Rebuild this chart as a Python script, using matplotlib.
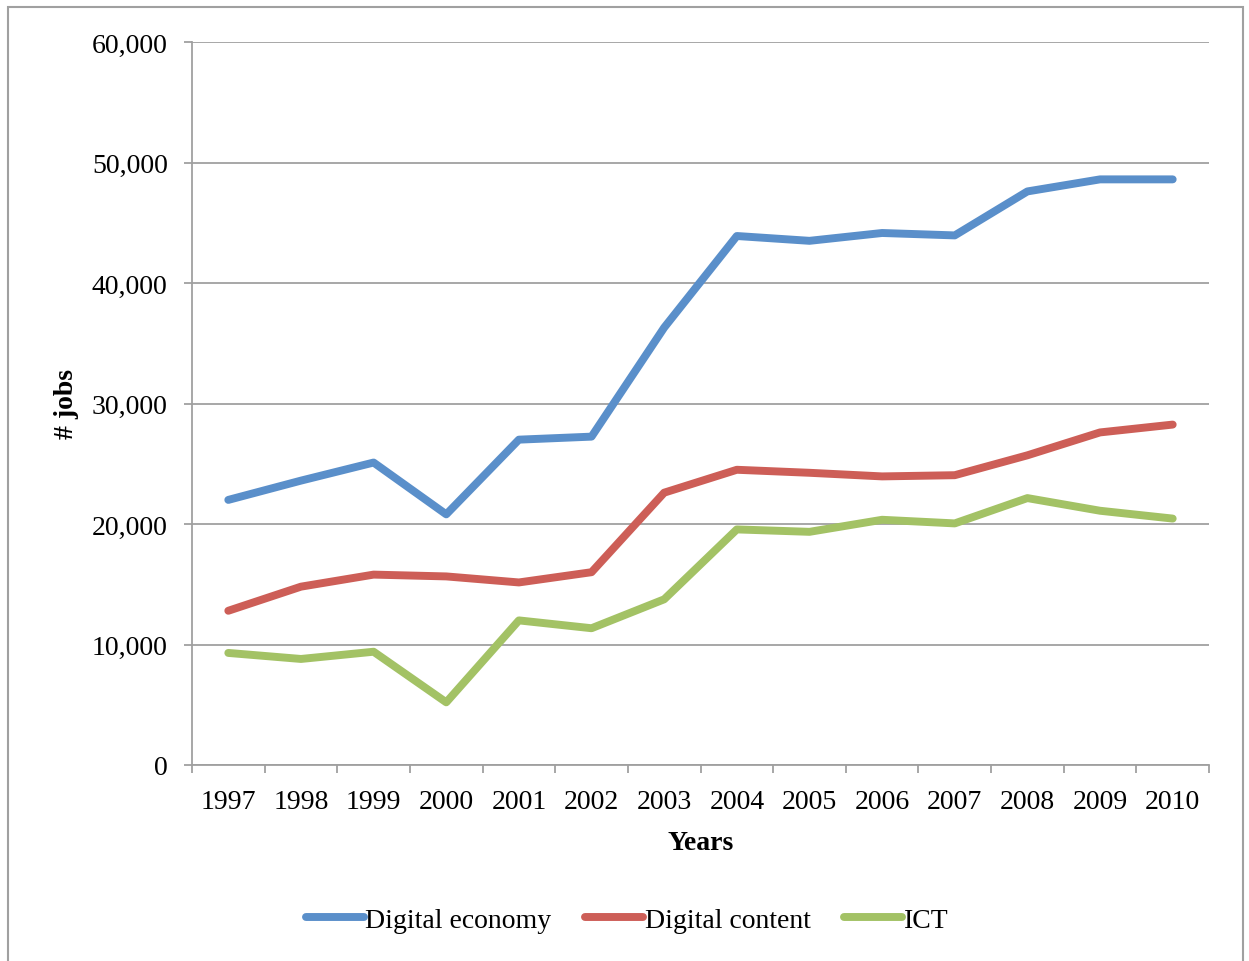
import matplotlib
matplotlib.use('Agg')
import matplotlib.pyplot as plt
from matplotlib.patches import Rectangle
from matplotlib.ticker import FuncFormatter, MultipleLocator

years = ['1997', '1998', '1999', '2000', '2001', '2002', '2003',
         '2004', '2005', '2006', '2007', '2008', '2009', '2010']
digital_economy = [22000, 23600, 25100, 20800, 27000, 27250, 36300,
                   43900, 43500, 44150, 43950, 47600, 48600, 48600]
digital_content = [12800, 14800, 15800, 15650, 15150, 16000, 22600,
                   24500, 24250, 23950, 24050, 25700, 27600, 28250]
ict = [9300, 8800, 9400, 5200, 12000, 11350, 13750,
       19550, 19350, 20350, 20050, 22150, 21100, 20450]

plt.rcParams['font.family'] = ['Liberation Serif', 'DejaVu Serif']
fs = 20

fig = plt.figure(figsize=(12.49, 9.62), dpi=100)
ax = fig.add_axes([192/1249, 1-766/962, (1209-192)/1249, (766-43)/962])

# outer frame like the excel chart area
fig.patches.append(Rectangle((8/1249, -0.05), (1243-8)/1249, 1.05 - 8/962,
                             transform=fig.transFigure, fill=False,
                             edgecolor='#A0A0A0', linewidth=1.5))

x = list(range(len(years)))
lw = 5.7
ax.plot(x, digital_economy, color='#5A8FCA', lw=lw, label='Digital economy', solid_capstyle='round')
ax.plot(x, digital_content, color='#CD5E57', lw=lw, label='Digital content', solid_capstyle='round')
ax.plot(x, ict, color='#A3C265', lw=lw, label='ICT', solid_capstyle='round')

ax.set_xlim(-0.5, len(years) - 0.5)
ax.set_ylim(0, 60000)
ax.yaxis.set_major_locator(MultipleLocator(10000))
ax.yaxis.set_major_formatter(FuncFormatter(lambda v, p: f'{int(v):,}'))
ax.grid(axis='y', color='#A0A0A0', lw=1.3)
ax.set_axisbelow(True)

ax.set_xticks(x)
ax.set_xticklabels(years)
ax.set_xticks([i - 0.5 for i in range(len(years) + 1)], minor=True)
ax.tick_params(axis='x', which='major', length=0, pad=17, labelsize=fs)
ax.tick_params(axis='x', which='minor', length=5.5, width=1.3, color='#A0A0A0', direction='out')
ax.tick_params(axis='y', length=5.5, width=1.3, color='#A0A0A0', pad=12, labelsize=fs)

for s in ['top', 'right']:
    ax.spines[s].set_visible(False)
for s in ['left', 'bottom']:
    ax.spines[s].set_color('#A0A0A0')
    ax.spines[s].set_linewidth(1.3)

ax.set_xlabel('Years', fontsize=fs, fontweight='bold', labelpad=12)
ax.set_ylabel('# jobs', fontsize=fs, fontweight='bold', labelpad=9)

fig.legend(loc='center', bbox_to_anchor=(0.502, 1-921/962), ncol=3, frameon=False,
           fontsize=fs, handlelength=2.1, handletextpad=0.05, columnspacing=1.2)

fig.savefig('out.png', dpi=100)
